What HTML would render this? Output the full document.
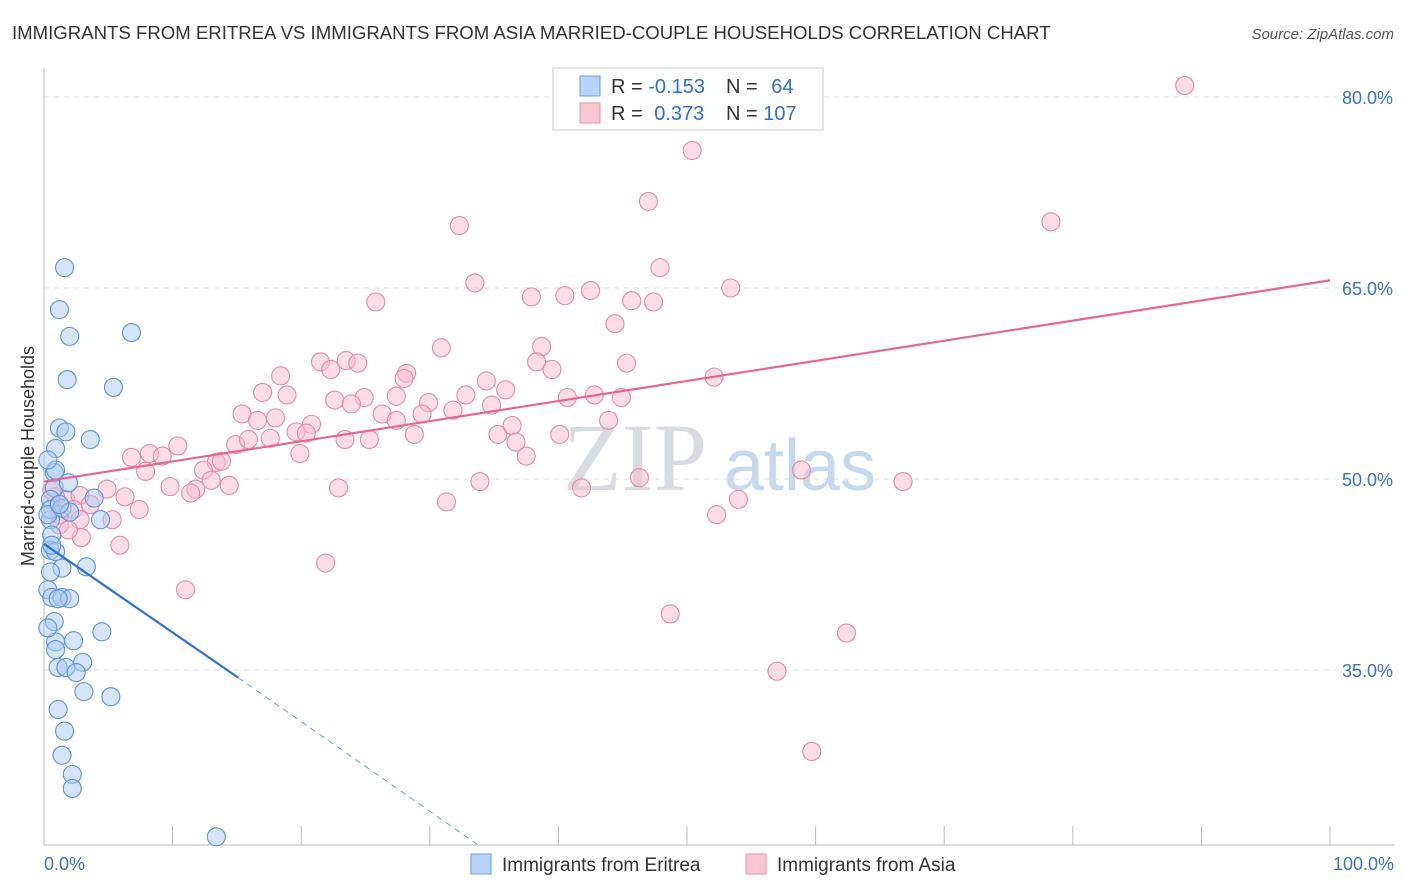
<!DOCTYPE html>
<html><head><meta charset="utf-8"><style>
body{margin:0;background:#fff;font-family:"Liberation Sans",sans-serif;}
svg{display:block}
</style></head><body>
<svg id="chart" width="1406" height="892" xmlns="http://www.w3.org/2000/svg">
<text x="12" y="39" font-size="18.6" fill="#333">IMMIGRANTS FROM ERITREA VS IMMIGRANTS FROM ASIA MARRIED-COUPLE HOUSEHOLDS CORRELATION CHART</text>
<text x="1394" y="39" font-size="15" fill="#555" font-style="italic" text-anchor="end">Source: ZipAtlas.com</text>
<text x="635" y="490" font-size="96" fill="#d8dbe0" font-family="Liberation Serif,serif" text-anchor="middle">ZIP</text>
<text x="800" y="490" font-size="72" fill="#c5d8ee" text-anchor="middle">atlas</text>
<g id="grid"></g><g id="axes"></g><g id="trend"></g><g id="pts"></g>
<text transform="translate(34,456) rotate(-90)" font-size="18" fill="#333" text-anchor="middle">Married-couple Households</text>
<g>
<rect x="553" y="68" width="270" height="62" fill="#fff" stroke="#ccc"/>
<rect x="580" y="76" width="20" height="20" fill="#b8d3f5" stroke="#6a9be0"/>
<rect x="580" y="103" width="20" height="20" fill="#f9c6d4" stroke="#e890aa"/>
<text x="611" y="93" font-size="20" fill="#333">R = <tspan fill="#2f6fd0">-0.153</tspan></text>
<text x="726" y="93" font-size="20" fill="#333">N = <tspan fill="#2f6fd0" dx="8">64</tspan></text>
<text x="611" y="120" font-size="20" fill="#333">R = <tspan fill="#2f6fd0" dx="6">0.373</tspan></text>
<text x="726" y="120" font-size="20" fill="#333">N = <tspan fill="#2f6fd0">107</tspan></text>
</g>
<g>
<rect x="471" y="854" width="20" height="20" fill="#b8d3f5" stroke="#6a9be0"/>
<text x="502" y="871" font-size="19" fill="#333">Immigrants from Eritrea</text>
<rect x="746" y="854" width="20" height="20" fill="#f9c6d4" stroke="#e890aa"/>
<text x="777" y="871" font-size="19" fill="#333">Immigrants from Asia</text>
</g>
</svg>
<script>
const yTicks=[35,50,65,80];
const xTickLabels=["0.0%","100.0%"];
const blueX=[1.6,1.2,2.0,6.8,1.8,5.4,1.2,1.7,3.6,0.9,0.8,0.8,1.9,3.9,0.5,4.4,0.5,0.6,0.5,0.9,1.4,3.3,0.5,0.3,0.6,1.4,2.0,0.8,4.5,0.9,2.3,0.9,1.1,1.7,3.0,2.5,3.1,5.2,1.1,1.6,1.4,2.2,2.2,13.4,0.5,0.3,1.4,2.0,0.9,0.3,0.6,1.1,0.3,1.2];
const blueY=[66.6,63.3,61.2,61.5,57.8,57.2,54.0,53.7,53.1,52.4,50.5,49.3,49.7,48.5,48.4,46.8,46.8,45.6,44.4,44.3,43.0,43.1,42.7,41.3,40.7,40.7,40.6,38.8,38.0,37.2,37.3,36.6,35.2,35.2,35.6,34.8,33.3,32.9,31.9,30.2,28.3,26.8,25.7,21.9,47.6,47.2,47.7,47.4,50.7,51.5,44.8,40.6,38.3,48.0];
const pinkX=[88.7,50.4,47.0,78.3,32.3,47.9,33.5,25.8,37.9,40.5,42.5,45.7,47.4,53.4,44.4,30.9,38.7,21.5,23.5,24.4,22.3,28.2,28.0,38.3,39.5,45.3,18.4,17.0,18.9,34.4,35.9,32.8,22.6,24.9,23.9,27.4,29.9,31.8,34.8,40.7,42.8,44.9,52.1,15.4,16.6,18.0,26.3,20.8,27.4,29.4,35.3,36.4,40.1,19.6,20.4,23.4,25.3,28.8,36.7,37.5,43.9,14.9,17.6,15.9,10.4,6.8,8.2,9.2,13.4,12.4,7.9,19.9,13.8,33.9,22.9,14.4,13.0,11.8,11.4,9.8,4.9,6.3,7.4,1.7,2.8,3.6,2.3,1.2,2.8,5.3,0.9,1.2,2.9,5.9,31.3,46.3,41.8,58.9,66.8,54.0,52.3,21.9,11.0,48.7,62.4,57.0,59.7,0.6,1.9];
const pinkY=[80.9,75.8,71.8,70.2,69.9,66.6,65.4,63.9,64.3,64.4,64.8,64.0,63.9,65.0,62.2,60.3,60.4,59.2,59.3,59.1,58.6,58.3,57.9,59.2,58.6,59.1,58.1,56.8,56.6,57.7,57.0,56.6,56.2,56.4,55.9,56.5,56.0,55.4,55.8,56.4,56.6,56.4,58.0,55.1,54.6,54.8,55.1,54.3,54.6,55.1,53.5,54.2,53.5,53.7,53.6,53.1,53.1,53.5,52.9,51.8,54.6,52.7,53.2,53.1,52.6,51.7,52.0,51.8,51.3,50.7,50.6,52.0,51.4,49.8,49.3,49.5,49.9,49.2,48.9,49.4,49.2,48.6,47.6,48.4,48.7,48.0,47.6,47.2,46.8,46.8,48.6,46.4,45.4,44.8,48.2,50.1,49.3,50.7,49.8,48.4,47.2,43.4,41.3,39.4,37.9,34.9,28.6,49.1,46.0];
const blueTrend=[[0,44.9],[15.1,34.4]];
const blueDash=[[15.1,34.4],[33.7,21.3]];
const pinkTrend=[[0,49.8],[100,65.6]];
const X=v=>44+v*12.86, Y=v=>97+(80-v)*12.733;
const NS="http://www.w3.org/2000/svg";
function mk(t,a,p){const e=document.createElementNS(NS,t);for(const k in a)e.setAttribute(k,a[k]);p.appendChild(e);return e;}
const grid=document.getElementById('grid'),axes=document.getElementById('axes'),trend=document.getElementById('trend'),pts=document.getElementById('pts');
yTicks.forEach(t=>{
 const l=mk('line',{x1:44,x2:1394,y1:Y(t),y2:Y(t),stroke:'#dcdcdc','stroke-dasharray':'5,5'},grid);
 
 
 const tx=mk('text',{x:1393,y:Y(t)+7,'font-size':18,fill:'#3a72c8','text-anchor':'end'},axes);
 tx.textContent=t.toFixed(1)+'%';
 
 
});
const ax=mk('line',{x1:44,x2:44,y1:68,y2:845,stroke:'#bbb'},axes);


const bx=mk('line',{x1:44,x2:1394,y1:845,y2:845,stroke:'#bbb'},axes);


for(let i=0;i<=10;i++){
 const t=mk('line',{x1:X(i*10),x2:X(i*10),y1:826,y2:845,stroke:'#bbb'},axes);
 
 
}
[[0,'start',44],[1,'end',1394]].forEach(([i,a,x])=>{
 const t=mk('text',{x:x,y:870,'font-size':18,fill:'#3a72c8','text-anchor':a},axes);
 t.textContent=xTickLabels[i];
 
 
});
function dot(xs,ys,fill,stroke,name){
 xs.forEach((v,i)=>{
  const c=mk('circle',{cx:X(v),cy:Y(ys[i]),r:9,fill:fill,'fill-opacity':0.5,stroke:stroke,'stroke-width':1.1},pts);
  
  
 });
}
dot(pinkX,pinkY,'#f7bccd','#e58aa6','asia-point');
dot(blueX,blueY,'#acc9f0','#5a94dd','eritrea-point');
const b1=mk('line',{x1:X(blueTrend[0][0]),y1:Y(blueTrend[0][1]),x2:X(blueTrend[1][0]),y2:Y(blueTrend[1][1]),stroke:'#2f6fd8','stroke-width':2.2},trend);


const b2=mk('line',{x1:X(blueDash[0][0]),y1:Y(blueDash[0][1]),x2:X(blueDash[1][0]),y2:Y(blueDash[1][1]),stroke:'#6a9be0','stroke-width':1,'stroke-dasharray':'6,5'},trend);


const p1=mk('line',{x1:X(pinkTrend[0][0]),y1:Y(pinkTrend[0][1]),x2:X(pinkTrend[1][0]),y2:Y(pinkTrend[1][1]),stroke:'#e8658f','stroke-width':2.2},trend);


pts.parentNode.appendChild(trend);
</script>
</body></html>
